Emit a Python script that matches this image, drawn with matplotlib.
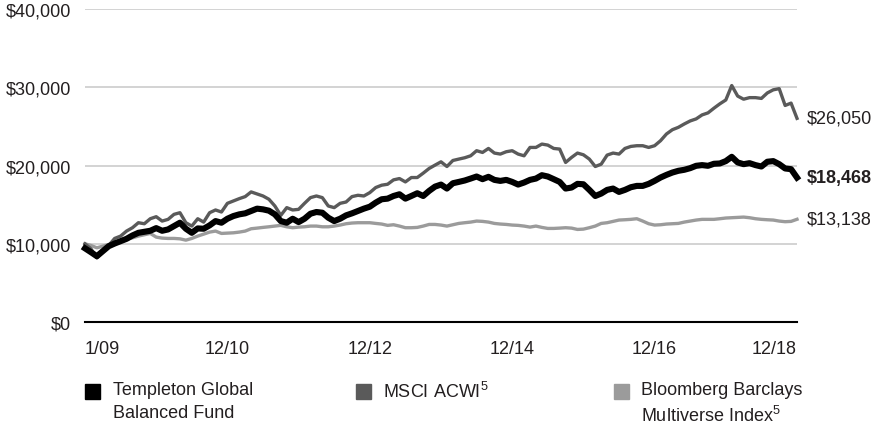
import matplotlib
matplotlib.use("Agg")
import matplotlib.pyplot as plt
from matplotlib import font_manager
from matplotlib.patches import Rectangle
from matplotlib.ticker import FuncFormatter

# monthly values, 12/08 (start) .. 12/18
fund = [9425, 8930, 8415, 9060, 9700, 10040, 10340, 10640, 11070, 11410,
        11540, 11670, 12010, 11670, 11840, 12270, 12700, 11930, 11410, 11970,
        11930, 12360, 12910, 12700, 13210, 13550, 13770, 13900, 14200, 14500,
        14410, 14240, 13770, 12910, 12700, 13210, 12780, 13210, 13850, 14070,
        13980, 13340, 12910, 13210, 13640, 13900, 14200, 14500, 14750, 15270,
        15700, 15780, 16120, 16340, 15780, 16120, 16470, 16120, 16770, 17320,
        17580, 17070, 17750, 17920, 18100, 18350, 18610, 18270, 18570, 18180,
        18050, 18180, 17920, 17580, 17840, 18180, 18350, 18780, 18610, 18270,
        17920, 17070, 17200, 17670, 17620, 16900, 16120, 16430, 16900, 17070,
        16640, 16900, 17240, 17410, 17410, 17670, 18050, 18480, 18820, 19120,
        19340, 19470, 19680, 19980, 20070, 19980, 20240, 20280, 20580, 21130,
        20410, 20190, 20320, 20070, 19890, 20500, 20580, 20190, 19640, 19550,
        18468]
msci = [10000, 9360, 8200, 9060, 9790, 10690, 10990, 11630, 12060, 12700,
        12570, 13210, 13470, 12910, 13130, 13770, 13980, 12700, 12270, 13210,
        12780, 13980, 14330, 14070, 15180, 15480, 15780, 16040, 16640, 16380,
        16120, 15700, 14840, 13640, 14630, 14330, 14410, 15180, 15910, 16120,
        15910, 14840, 14630, 15180, 15350, 16040, 16210, 16120, 16550, 17200,
        17500, 17620, 18180, 18350, 17920, 18480, 18480, 19040, 19640, 20070,
        20490, 19890, 20660, 20840, 21010, 21260, 21910, 21690, 22200, 21610,
        21480, 21780, 21910, 21480, 21260, 22330, 22330, 22760, 22630, 22200,
        22120, 20410, 21050, 21610, 21390, 20840, 19890, 20190, 21350, 21610,
        21480, 22200, 22460, 22550, 22550, 22330, 22550, 23190, 24050, 24600,
        24900, 25330, 25720, 25980, 26490, 26750, 27350, 27910, 28400, 30250,
        28900, 28500, 28700, 28700, 28600, 29300, 29700, 29850, 27700, 28000,
        26050]
bbm = [10000, 9790, 9490, 9700, 9910, 10130, 10340, 10560, 10770, 10990,
       11160, 11330, 10860, 10730, 10690, 10690, 10640, 10470, 10690, 10990,
       11240, 11500, 11630, 11330, 11370, 11410, 11500, 11630, 11930, 12010,
       12100, 12180, 12270, 12360, 12180, 12060, 12140, 12180, 12270, 12270,
       12180, 12180, 12270, 12400, 12570, 12660, 12700, 12700, 12700, 12610,
       12530, 12360, 12440, 12270, 12060, 12060, 12100, 12270, 12480, 12480,
       12400, 12270, 12440, 12610, 12700, 12780, 12910, 12870, 12780, 12610,
       12530, 12480, 12400, 12360, 12270, 12140, 12270, 12100, 11970, 11970,
       12010, 12060, 12010, 11840, 11880, 12060, 12270, 12610, 12700, 12870,
       13040, 13080, 13130, 13210, 12910, 12570, 12400, 12440, 12530, 12570,
       12610, 12780, 12910, 13040, 13130, 13130, 13130, 13210, 13300, 13340,
       13380, 13420, 13340, 13210, 13130, 13080, 13040, 12910, 12830, 12870,
       13138]
months = list(range(len(fund)))

tick_pos = [0, 24, 48, 72, 96, 120]
tick_lab = ["1/09", "12/10", "12/12", "12/14", "12/16", "12/18"]
y_ticks = [0, 10000, 20000, 30000, 40000]

names = ["Templeton Global\nBalanced Fund", "MSCI ACWI$^{\\mathrm{5}}$",
         "Bloomberg Barclays\nMultiverse Index$^{\\mathrm{5}}$"]
colors = ["#000000", "#5a5a5a", "#9b9b9b"]
TXT = "#231f20"

avail = {f.name for f in font_manager.fontManager.ttflist}
if "Liberation Sans Narrow" in avail:
    FONT, FS = "Liberation Sans Narrow", 15
else:
    FONT, FS = "Liberation Sans", 13
plt.rcParams["font.family"] = [FONT, "DejaVu Sans"]
plt.rcParams["mathtext.fontset"] = "custom"
plt.rcParams["mathtext.rm"] = FONT

W, H = 875, 427
fig = plt.figure(figsize=(W / 100, H / 100), dpi=100)
ax = fig.add_axes([85 / W, 1 - 323 / H, 712 / W, (323 - 10.3) / H])

ax.plot(months, bbm, color=colors[2], lw=2.4, zorder=3, clip_on=False)
ax.plot(months, msci, color=colors[1], lw=2.4, zorder=4, clip_on=False)
ax.plot(months, fund, color=colors[0], lw=4.4, zorder=5, clip_on=False)

ax.set_xlim(0, 120)
ax.set_ylim(0, 40000)
ax.set_yticks(y_ticks)
ax.yaxis.set_major_formatter(FuncFormatter(lambda v, p: f"${v:,.0f}"))
ax.grid(axis="y", color="#c8c8c8", lw=1.1, zorder=1)
ax.set_xticks(tick_pos)
ax.set_xticklabels(tick_lab)
tl = ax.get_xticklabels()
tl[0].set_ha("left")
tl[-1].set_ha("right")
ax.tick_params(length=0, labelsize=FS, colors=TXT)
ax.tick_params(axis="x", pad=13)
ax.tick_params(axis="y", pad=10)
for s in ["top", "right", "left"]:
    ax.spines[s].set_visible(False)
ax.spines["bottom"].set_color("#000000")
ax.spines["bottom"].set_linewidth(1.5)
ax.spines["bottom"].set_zorder(6)

# end-value labels
for vals, bold in [(msci, False), (fund, True), (bbm, False)]:
    ax.annotate(f"${vals[-1]:,.0f}", (months[-1], vals[-1]), xytext=(7, 0),
                textcoords="offset points", va="center", ha="left",
                fontsize=FS, color=TXT, fontweight="bold" if bold else "normal",
                annotation_clip=False)

# legend
sq_x = [85, 356, 614]
tx_x = [113, 383, 641]
for x0, tx, nm, c in zip(sq_x, tx_x, names, colors):
    fig.patches.append(Rectangle((x0 / W, 1 - 400 / H), 15 / W, 15 / H,
                                 transform=fig.transFigure, color=c))
    fig.text(tx / W, 1 - 382 / H, nm, ha="left", va="top", fontsize=FS,
             color=TXT, linespacing=1.45)

fig.savefig("out.png", dpi=100)
